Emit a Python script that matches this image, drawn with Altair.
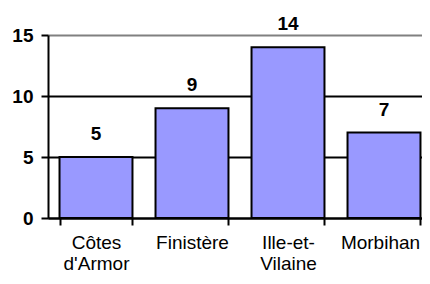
import json
import altair as alt
import pandas as pd

categories = ["Côtes d'Armor", "Finistère", "Ille-et-Vilaine", "Morbihan"]
values = [5, 9, 14, 7]
label_lines = [["Côtes", "d'Armor"], ["Finistère"], ["Ille-et-", "Vilaine"], ["Morbihan"]]
y_ticks = [0, 5, 10, 15]

df = pd.DataFrame({"cat": categories, "val": values})

parts = []
for c, lines in zip(categories, label_lines):
    parts.append(f"datum.value == {json.dumps(c)} ? {json.dumps(lines)} : ")
label_expr = "".join(parts) + "datum.label"

FONT = "Liberation Sans"

base = alt.Chart(df).encode(
    x=alt.X(
        "cat:N",
        sort=categories,
        title=None,
        scale=alt.Scale(paddingInner=0.24, paddingOuter=0.12, range=[0, 384]),
        axis=alt.Axis(
            labelAngle=0,
            labelExpr=label_expr,
            labelFont=FONT,
            labelFontSize=19,
            labelColor="black",
            labelLineHeight=21,
            labelPadding=8,
            labelBaseline="top",
            labelOffset={"condition": {"test": f"datum.value == {json.dumps(categories[-1])}", "value": -4}, "value": 0},
            tickBand="extent",
            tickSize=7,
            tickWidth=2,
            tickColor="black",
            domainColor="black",
            domainWidth=2,
            grid=False,
        ),
    ),
    y=alt.Y(
        "val:Q",
        title=None,
        scale=alt.Scale(domain=[0, 15], nice=False),
        axis=alt.Axis(
            values=y_ticks,
            labelFont=FONT,
            labelFontSize=19,
            labelFontWeight="bold",
            labelColor="black",
            labelPadding=8,
            tickSize=7,
            tickWidth=2,
            tickColor="black",
            domainColor="black",
            domainWidth=2,
            grid=True,
            gridColor={"condition": {"test": "datum.value >= 15", "value": "#808080"}, "value": "black"},
            gridWidth=2,
            gridOpacity=1,
        ),
    ),
)

bars = base.mark_bar(color="#9999FF", stroke="black", strokeWidth=2)
text = base.mark_text(
    font=FONT, fontSize=19, fontWeight="bold", baseline="alphabetic", dy=-17, color="black"
).encode(text="val:Q")

chart = (
    (bars + text)
    .properties(
        width=374,
        height=183,
        autosize=alt.AutoSizeParams(type="none"),
        padding={"left": 40, "top": 27, "right": 0, "bottom": 55},
    )
    .configure_view(stroke=None)
)

chart.save("out.html", embed_options={"renderer": "svg", "actions": False})
